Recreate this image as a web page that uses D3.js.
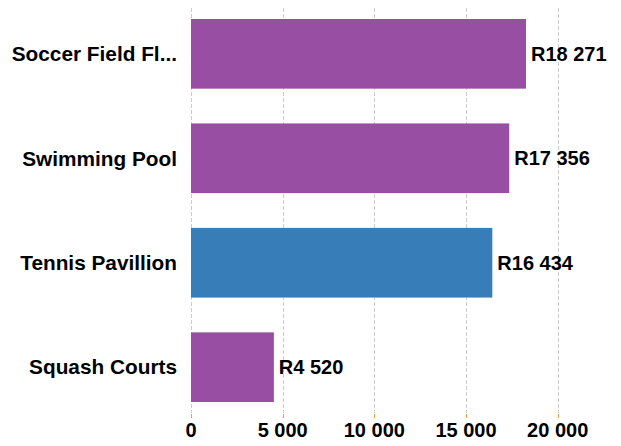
<!DOCTYPE html>
<html>
<head>
<meta charset="utf-8">
<script src="https://cdn.jsdelivr.net/npm/d3@7"></script>
<style>
html,body{margin:0;padding:0;background:#fff;}
svg{display:block;}
text{font-family:"Liberation Sans",Arial,Helvetica,sans-serif;font-weight:bold;fill:#000;}
</style>
</head>
<body>
<svg id="chart" width="621" height="446"></svg>
<script>
const categories = ["Soccer Field Fl...", "Swimming Pool", "Tennis Pavillion", "Squash Courts"];
const values = [18271, 17356, 16434, 4520];
const valueLabels = ["R18 271", "R17 356", "R16 434", "R4 520"];
const barColors = ["#984ea3", "#984ea3", "#377eb8", "#984ea3"];
const tickValues = [0, 5000, 10000, 15000, 20000];
const tickLabels = ["0", "5 000", "10 000", "15 000", "20 000"];

const svg = d3.select("#chart");
const x = d3.scaleLinear().domain([0, 20000]).range([191, 557.7]);
const y = d3.scaleBand().domain(categories).range([8, 413]).paddingInner(0.333).paddingOuter(0.105);

// gridlines
svg.append("g").selectAll("line").data(tickValues).join("line")
  .attr("x1", d => Math.round(x(d)) + 0.5).attr("x2", d => Math.round(x(d)) + 0.5)
  .attr("y1", 8).attr("y2", 413)
  .attr("stroke", "#cccccc").attr("stroke-width", 1).attr("stroke-dasharray", "4,2");

// ticks
svg.append("g").selectAll("line").data(tickValues).join("line")
  .attr("x1", d => Math.round(x(d)) + 0.5).attr("x2", d => Math.round(x(d)) + 0.5)
  .attr("y1", 414).attr("y2", 418)
  .attr("stroke", "#f5a030").attr("stroke-width", 1);

// tick labels
svg.append("g").selectAll("text").data(tickValues).join("text")
  .attr("x", d => x(d)).attr("y", 437)
  .attr("text-anchor", "middle").attr("font-size", "20px")
  .text((d, i) => tickLabels[i]);

// bars
svg.append("g").selectAll("rect").data(categories).join("rect")
  .attr("x", x(0)).attr("y", d => y(d))
  .attr("width", (d, i) => x(values[i]) - x(0))
  .attr("height", y.bandwidth())
  .attr("fill", (d, i) => barColors[i]);

// category labels
svg.append("g").selectAll("text").data(categories).join("text")
  .attr("x", 177).attr("y", d => y(d) + y.bandwidth() / 2)
  .attr("dy", "0.35em").attr("text-anchor", "end").attr("font-size", "20.8px")
  .text(d => d);

// value labels
svg.append("g").selectAll("text").data(categories).join("text")
  .attr("x", (d, i) => x(values[i]) + 5).attr("y", d => y(d) + y.bandwidth() / 2)
  .attr("dy", "0.35em").attr("text-anchor", "start").attr("font-size", "20px")
  .text((d, i) => valueLabels[i]);
</script>
</body>
</html>
